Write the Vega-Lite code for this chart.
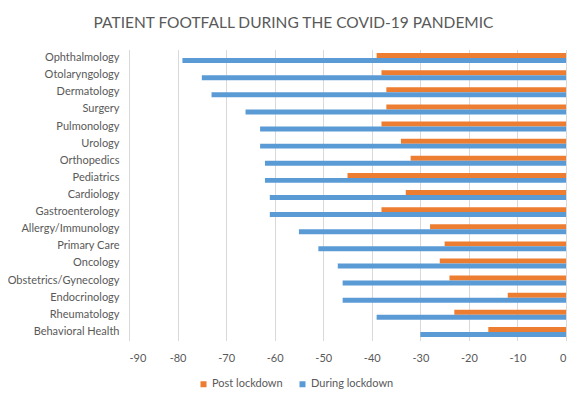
{
  "$schema": "https://vega.github.io/schema/vega-lite/v6.json",
  "autosize": {"type": "none"},
  "width": 437,
  "height": 291,
  "padding": {"left": 129, "top": 49.5, "right": 21, "bottom": 64.5},
  "background": "white",
  "title": {
    "text": "PATIENT FOOTFALL DURING THE COVID-19 PANDEMIC",
    "font": "Lato",
    "fontSize": 15.5,
    "fontWeight": "normal",
    "color": "#595959",
    "anchor": "middle",
    "dx": -54,
    "offset": 18
  },
  "config": {
    "view": {"stroke": null},
    "axis": {"labelFont": "Lato", "labelFontSize": 11, "labelColor": "#595959"},
    "legend": {"labelFont": "Lato", "labelFontSize": 11, "labelColor": "#595959"}
  },
  "data": {
    "values": [
      {"dept": "Ophthalmology", "series": "Post lockdown", "value": -39},
      {"dept": "Ophthalmology", "series": "During lockdown", "value": -79},
      {"dept": "Otolaryngology", "series": "Post lockdown", "value": -38},
      {"dept": "Otolaryngology", "series": "During lockdown", "value": -75},
      {"dept": "Dermatology", "series": "Post lockdown", "value": -37},
      {"dept": "Dermatology", "series": "During lockdown", "value": -73},
      {"dept": "Surgery", "series": "Post lockdown", "value": -37},
      {"dept": "Surgery", "series": "During lockdown", "value": -66},
      {"dept": "Pulmonology", "series": "Post lockdown", "value": -38},
      {"dept": "Pulmonology", "series": "During lockdown", "value": -63},
      {"dept": "Urology", "series": "Post lockdown", "value": -34},
      {"dept": "Urology", "series": "During lockdown", "value": -63},
      {"dept": "Orthopedics", "series": "Post lockdown", "value": -32},
      {"dept": "Orthopedics", "series": "During lockdown", "value": -62},
      {"dept": "Pediatrics", "series": "Post lockdown", "value": -45},
      {"dept": "Pediatrics", "series": "During lockdown", "value": -62},
      {"dept": "Cardiology", "series": "Post lockdown", "value": -33},
      {"dept": "Cardiology", "series": "During lockdown", "value": -61},
      {"dept": "Gastroenterology", "series": "Post lockdown", "value": -38},
      {"dept": "Gastroenterology", "series": "During lockdown", "value": -61},
      {"dept": "Allergy/Immunology", "series": "Post lockdown", "value": -28},
      {"dept": "Allergy/Immunology", "series": "During lockdown", "value": -55},
      {"dept": "Primary Care", "series": "Post lockdown", "value": -25},
      {"dept": "Primary Care", "series": "During lockdown", "value": -51},
      {"dept": "Oncology", "series": "Post lockdown", "value": -26},
      {"dept": "Oncology", "series": "During lockdown", "value": -47},
      {"dept": "Obstetrics/Gynecology", "series": "Post lockdown", "value": -24},
      {"dept": "Obstetrics/Gynecology", "series": "During lockdown", "value": -46},
      {"dept": "Endocrinology", "series": "Post lockdown", "value": -12},
      {"dept": "Endocrinology", "series": "During lockdown", "value": -46},
      {"dept": "Rheumatology", "series": "Post lockdown", "value": -23},
      {"dept": "Rheumatology", "series": "During lockdown", "value": -39},
      {"dept": "Behavioral Health", "series": "Post lockdown", "value": -16},
      {"dept": "Behavioral Health", "series": "During lockdown", "value": -30}
    ]
  },
  "mark": {"type": "bar"},
  "encoding": {
    "y": {
      "field": "dept",
      "type": "nominal",
      "sort": null,
      "scale": {"paddingInner": 0.42, "paddingOuter": 0.21},
      "axis": {"title": null, "ticks": false, "domain": false, "grid": false, "labelPadding": 10}
    },
    "yOffset": {
      "field": "series",
      "type": "nominal",
      "sort": ["Post lockdown", "During lockdown"],
      "scale": {"paddingInner": 0, "paddingOuter": 0}
    },
    "x": {
      "field": "value",
      "type": "quantitative",
      "scale": {"domain": [-90, 0], "nice": false},
      "axis": {
        "title": null,
        "values": [-90, -80, -70, -60, -50, -40, -30, -20, -10, 0],
        "ticks": false,
        "domain": false,
        "grid": true,
        "gridColor": "#d9d9d9",
        "gridWidth": 1,
        "labelPadding": 12,
        "labelExpr": "replace(format(datum.value, 'd'), '\u2212', '-')"
      }
    },
    "color": {
      "field": "series",
      "type": "nominal",
      "scale": {"domain": ["Post lockdown", "During lockdown"], "range": ["#ED7D31", "#5B9BD5"]},
      "legend": {
        "title": null,
        "orient": "none",
        "direction": "horizontal",
        "legendX": 69,
        "legendY": 329,
        "symbolType": "square",
        "symbolSize": 36,
        "symbolStrokeWidth": 0,
        "columnPadding": 14,
        "labelOffset": 3
      }
    }
  }
}
